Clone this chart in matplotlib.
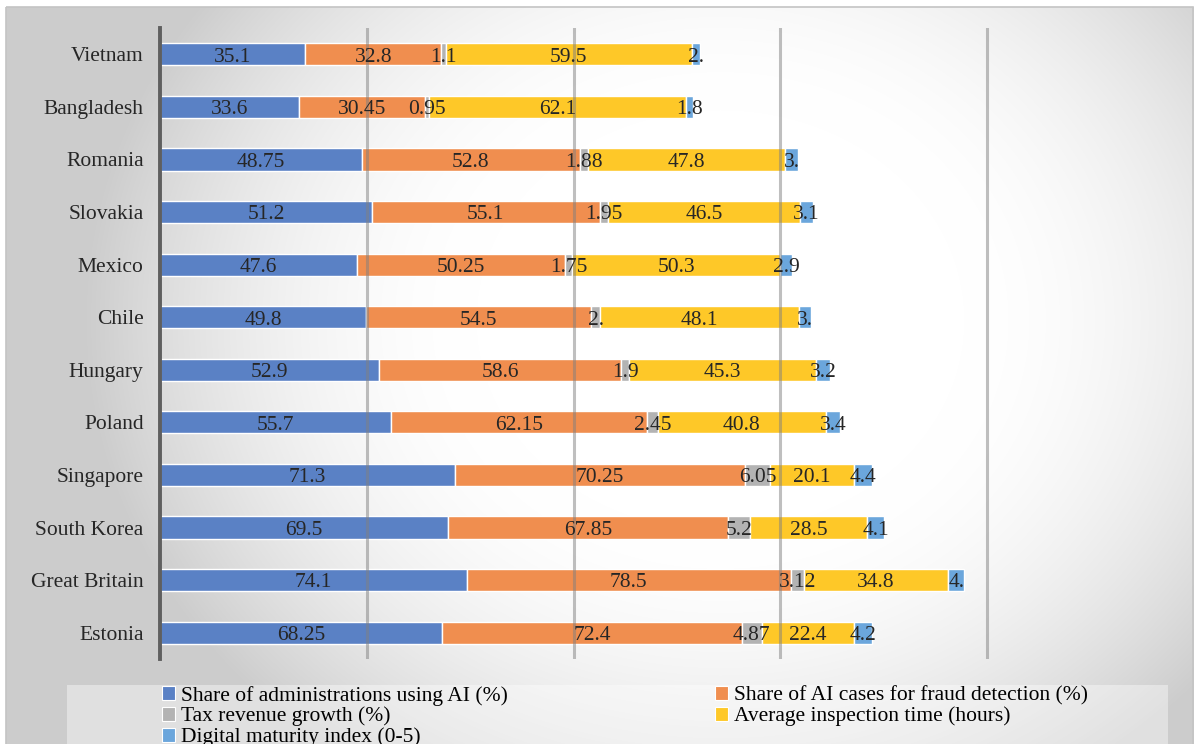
import matplotlib
matplotlib.use("Agg")
import matplotlib.pyplot as plt
from matplotlib.patches import Patch, Rectangle
import numpy as np

countries = ["Vietnam", "Bangladesh", "Romania", "Slovakia", "Mexico", "Chile",
             "Hungary", "Poland", "Singapore", "South Korea", "Great Britain", "Estonia"]
admin_ai = [35.1, 33.6, 48.75, 51.2, 47.6, 49.8, 52.9, 55.7, 71.3, 69.5, 74.1, 68.25]
fraud_ai = [32.8, 30.45, 52.8, 55.1, 50.25, 54.5, 58.6, 62.15, 70.25, 67.85, 78.5, 72.4]
tax_growth = [1.1, 0.95, 1.88, 1.95, 1.75, 2.0, 1.9, 2.45, 6.05, 5.2, 3.12, 4.87]
inspection = [59.5, 62.1, 47.8, 46.5, 50.3, 48.1, 45.3, 40.8, 20.1, 28.5, 34.8, 22.4]
maturity = [2.0, 1.8, 3.0, 3.1, 2.9, 3.0, 3.2, 3.4, 4.4, 4.1, 4.0, 4.2]

series_names = ["Share of administrations using AI (%)",
                "Share of AI cases for fraud detection (%)",
                "Tax revenue growth (%)",
                "Average inspection time (hours)",
                "Digital maturity index (0-5)"]
colors = ["#5a81c5", "#f08e4f", "#b3b3b3", "#fec828", "#6ba6dc"]

serif = "Liberation Serif"
fs = 15.5
W, H = 1194, 744
fig = plt.figure(figsize=(W / 100, H / 100), dpi=100)

# background gradient
yy, xx = np.mgrid[0:H, 0:W]
d = np.sqrt(((xx - 720) / 580.0) ** 2 + ((yy - 320) / 500.0) ** 2)
t = np.clip((d - 0.42) / 0.68, 0, 1)
v = 1 - 0.2 * t ** 1.8
v[(xx < 6) | (yy < 7)] = 1.0
bg = fig.add_axes([0, 0, 1, 1], zorder=-10)
bg.imshow(np.dstack([v, v, v]), aspect="auto", extent=[0, W, H, 0])
bg.set_xlim(0, W)
bg.set_ylim(H, 0)
bg.axis("off")
bg.add_patch(Rectangle((6, 7), W - 7, H, fill=False, edgecolor="#c4c4c4", lw=1.2))
# legend box
bg.add_patch(Rectangle((67, 685), 1101, 70, facecolor="white", alpha=0.4, edgecolor="none"))

ax = fig.add_axes([160.3 / W, 1 - 659 / H, 225 * 4.134 / W, 631 / H])
ax.set_facecolor("none")

data = [admin_ai, fraud_ai, tax_growth, inspection, maturity]
y = np.arange(len(countries))
left = np.zeros(len(countries))
for vals, c in zip(data, colors):
    vals = np.array(vals)
    ax.barh(y, vals, left=left, height=0.42, color=c, edgecolor="white",
            linewidth=1.0, zorder=2)
    for yi, l, w in zip(y, left, vals):
        lab = f"{w:g}"
        if "." not in lab:
            lab += "."
        ax.text(l + w / 2, yi + 0.14, lab, ha="center", va="baseline", fontsize=fs,
                family=serif, color="#262626", zorder=5)
    left += vals

for gx in [50, 100, 150, 200]:
    ax.axvline(gx, color="#808080", alpha=0.5, lw=2.2, zorder=3)

ax.set_xlim(0, 225)
ax.set_ylim(len(countries) - 0.5, -0.5)
ax.set_yticks(y)
ax.set_yticklabels(countries, fontsize=fs, family=serif, color="#262626")
ax.tick_params(axis="y", length=0, pad=12)
ax.set_xticks([])
for s in ["top", "right", "bottom"]:
    ax.spines[s].set_visible(False)
ax.spines["left"].set_color("#5f5f5f")
ax.spines["left"].set_linewidth(2.8)

handles = [Patch(facecolor=c, edgecolor="white", lw=0.8) for c in colors]
order = [0, 2, 4, 1, 3]
fig.legend([handles[i] for i in order], [series_names[i] for i in order],
           loc="upper left", bbox_to_anchor=(151 / W, 1 - 675 / H), ncol=2,
           frameon=False, prop={"family": serif, "size": fs},
           handlelength=0.6, handleheight=0.6, handletextpad=0.3,
           labelspacing=0.05, columnspacing=9.6, borderpad=0)

fig.savefig("out.png", dpi=100)
